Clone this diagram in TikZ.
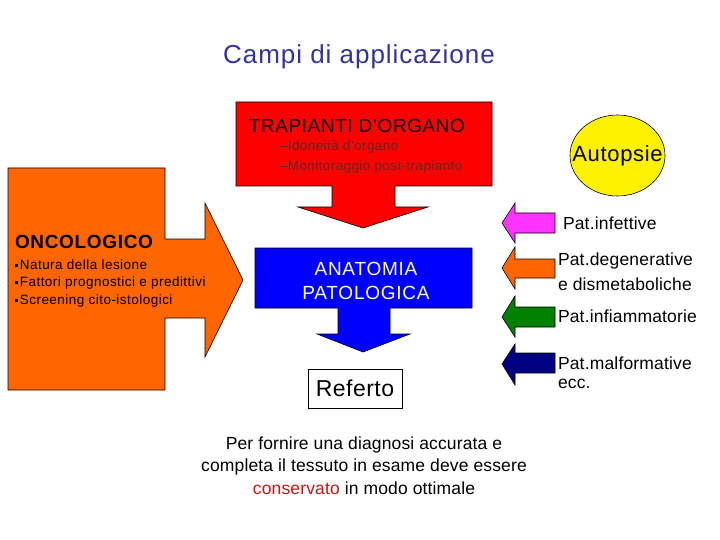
\documentclass[tikz,border=0pt]{standalone}
\usepackage{fontspec}
\setmainfont{Liberation Sans}
\usetikzlibrary{shapes.geometric}
\definecolor{titleblue}{RGB}{51,51,153}
\definecolor{arred}{RGB}{255,0,0}
\definecolor{arorange}{RGB}{255,102,0}
\definecolor{arblue}{RGB}{0,0,255}
\definecolor{armagenta}{RGB}{255,51,255}
\definecolor{argreen}{RGB}{0,128,0}
\definecolor{arnavy}{RGB}{0,0,128}
\definecolor{subgray}{RGB}{90,40,40}
\definecolor{consred}{RGB}{200,20,20}
\tikzset{
  shapeline/.style={draw=black, line width=0.6pt, line join=miter},
  txt/.style={inner sep=0pt, outer sep=0pt, text=black},
}
\newcommand{\fs}[2]{\fontsize{#1}{#1}\selectfont\addfontfeatures{LetterSpace=#2}}
\newcommand{\sqb}{\raisebox{2.8pt}{\rule{2.6pt}{2.6pt}}\,}
\begin{document}
\begin{tikzpicture}[x=1pt,y=-1pt]
\useasboundingbox (0,0) rectangle (720,540);
% title
\node[txt, text=titleblue, anchor=center] (title) at (359,57) {\fs{26}{3.7}Campi di applicazione};

% red down arrow callout
\path[shapeline, fill=arred] (236,102) -- (492,102) -- (492,186) -- (395,186) -- (395,207)
  -- (428,207) -- (363,228) -- (298,207) -- (332,207) -- (332,186) -- (236,186) -- cycle;
\node[txt, anchor=center] (trap) at (357,126) {\fs{19}{3}TRAPIANTI D’ORGANO};
\node[txt, text=subgray, anchor=west] (ido) at (280,147) {\fs{13.5}{3}–Idoneità d’organo};
\node[txt, text=subgray, anchor=west] (mon) at (280,167) {\fs{13.5}{3}–Monitoraggio post-trapianto};

% orange right arrow callout
\path[shapeline, fill=arorange] (8,168) -- (165,168) -- (165,239) -- (205,239) -- (205,203)
  -- (243,280) -- (205,357) -- (205,318) -- (165,318) -- (165,390) -- (8,390) -- cycle;
\node[txt, anchor=west] (onco) at (15,242) {\fs{19}{3.5}\bfseries ONCOLOGICO};
\node[txt, anchor=west] (nat) at (15,265) {\fs{13.5}{3.5}\sqb Natura della lesione};
\node[txt, anchor=west] (fat) at (15,283) {\fs{13.5}{3.5}\sqb Fattori prognostici e predittivi};
\node[txt, anchor=west] (scr) at (15,301) {\fs{13.5}{3.5}\sqb Screening cito-istologici};

% blue down arrow callout
\path[shapeline, fill=arblue] (255,248) -- (472,248) -- (472,308) -- (390,308) -- (390,334)
  -- (410,334) -- (363,352) -- (317,334) -- (338,334) -- (338,308) -- (255,308) -- cycle;
\node[txt, text=white, anchor=center] (anat1) at (366,268.5) {\fs{19}{4}ANATOMIA};
\node[txt, text=white, anchor=center] (anat2) at (366,293) {\fs{19}{4}PATOLOGICA};

% Referto
\node[draw=black, line width=0.6pt, fill=white, minimum width=94pt, minimum height=39pt, inner sep=0pt] (ref) at (355,388.5) {\fs{23}{2}Referto};

% bottom text
\node[txt, anchor=center] (bot1) at (364,445) {\fs{17.5}{0.8}Per fornire una diagnosi accurata e};
\node[txt, anchor=center] (bot2) at (364,467) {\fs{17.5}{0.8}completa il tessuto in esame deve essere};
\node[txt, anchor=center] (bot3) at (364,488) {\fs{17.5}{0.8}\textcolor{consred}{conservato} in modo ottimale};

% Autopsie
\node[ellipse, draw=black, line width=0.6pt, fill=yellow, minimum width=95pt, minimum height=81pt, inner sep=0pt] (aut) at (617.5,155.5) {};
\node[txt] (auttext) at (aut.center) {\fs{22}{3}Autopsie};

% small left arrows
\path[shapeline, fill=armagenta] (502,223) -- (515,203) -- (515,213) -- (555,213) -- (555,233) -- (515,233) -- (515,243) -- cycle;
\node[txt, anchor=west] (inf) at (563,223) {\fs{17.5}{1}Pat.infettive};

\path[shapeline, fill=arorange] (502,268) -- (515,247) -- (515,259) -- (555,259) -- (555,278) -- (515,278) -- (515,289) -- cycle;
\node[txt, anchor=west] (deg) at (558,261) {\fs{17.5}{1}Pat.degenerative};
\node[txt, anchor=west] (dis) at (558,284) {\fs{17.5}{1}e dismetaboliche};

\path[shapeline, fill=argreen] (502,317) -- (515,296) -- (515,307) -- (555,307) -- (555,327) -- (515,327) -- (515,337) -- cycle;
\node[txt, anchor=west] (infl) at (558,316) {\fs{17.5}{1}Pat.infiammatorie};

\path[shapeline, fill=arnavy] (502,364) -- (515,344) -- (515,353) -- (555,353) -- (555,373) -- (515,373) -- (515,385) -- cycle;
\node[txt, anchor=west] (mal) at (558,363) {\fs{17.5}{1}Pat.malformative};
\node[txt, anchor=west] (ecc) at (558,384) {\fs{17.5}{1}ecc.};
\end{tikzpicture}
\end{document}
